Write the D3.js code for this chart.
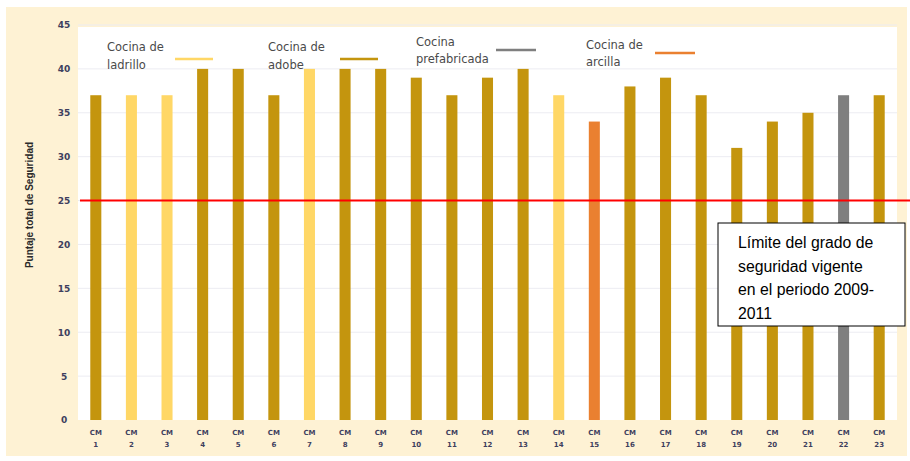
<!DOCTYPE html>
<html>
<head>
<meta charset="utf-8">
<script src="https://cdn.jsdelivr.net/npm/d3@7/dist/d3.min.js"></script>
<style>
  html, body { margin: 0; padding: 0; background: #ffffff; }
  svg { display: block; }
</style>
</head>
<body>
<svg id="chart" width="910" height="461"></svg>
<script>
// Kitchen codes and total safety score per kitchen
const categories = ["1","2","3","4","5","6","7","8","9","10","11","12","13","14","15","16","17","18","19","20","21","22","23"];
const scores = [37, 37, 37, 40, 40, 37, 40, 40, 40, 39, 37, 39, 40, 37, 34, 38, 39, 37, 31, 34, 35, 37, 37];
const kitchenType = ["adobe","ladrillo","ladrillo","adobe","adobe","adobe","ladrillo","adobe","adobe","adobe","adobe","adobe","adobe","ladrillo","arcilla","adobe","adobe","adobe","adobe","adobe","adobe","prefabricada","adobe"];
const yTicks = [0, 5, 10, 15, 20, 25, 30, 35, 40, 45];
const threshold = 25;

const typeKeys = ["ladrillo", "adobe", "prefabricada", "arcilla"];
const typeLabels = [["Cocina de", "ladrillo"], ["Cocina de", "adobe"], ["Cocina", "prefabricada"], ["Cocina de", "arcilla"]];
const typeColors = ["#FFD766", "#C4950E", "#7F7F7F", "#EA8030"];

const color = d3.scaleOrdinal().domain(typeKeys).range(typeColors);

const svg = d3.select("#chart");

// cream frame and white plotting area
svg.append("rect").attr("x", 6).attr("y", 7).attr("width", 901).attr("height", 449).attr("fill", "#FEF2D4");
const plot = { left: 78, right: 897, top: 27, bottom: 420 };
svg.append("rect").attr("x", plot.left).attr("y", plot.top)
  .attr("width", plot.right - plot.left).attr("height", plot.bottom - plot.top).attr("fill", "#ffffff");

const x = d3.scaleBand().domain(categories).range([plot.left, plot.right]).paddingInner(0.69).paddingOuter(0.345);
const y = d3.scaleLinear().domain([0, 45]).range([plot.bottom, 25]);

// horizontal gridlines
svg.append("g").selectAll("line").data(yTicks.slice(1)).join("line")
  .attr("x1", plot.left).attr("x2", plot.right)
  .attr("y1", d => y(d)).attr("y2", d => y(d))
  .attr("stroke", "#ececf2").attr("stroke-width", 1);

// y axis
const yAxis = svg.append("g").attr("transform", `translate(${plot.left},0)`)
  .call(d3.axisLeft(y).tickValues(yTicks).tickSize(0).tickPadding(12));
yAxis.select(".domain").remove();
yAxis.selectAll("text")
  .attr("font-family", "DejaVu Sans, sans-serif").attr("font-size", 9).attr("font-weight", "bold")
  .attr("fill", "#3E3F5E").attr("text-anchor", "middle").attr("dx", -2);

svg.append("text")
  .attr("transform", `translate(33,205) rotate(-90)`)
  .attr("text-anchor", "middle")
  .attr("font-family", "Liberation Sans Narrow, Arial Narrow, Liberation Sans, sans-serif")
  .attr("font-size", 10).attr("font-weight", "bold").attr("fill", "#2b2b2b")
  .text("Puntaje total de Seguridad");

// bars
svg.append("g").selectAll("rect").data(categories).join("rect")
  .attr("x", d => x(d))
  .attr("y", (d, i) => y(scores[i]))
  .attr("width", x.bandwidth())
  .attr("height", (d, i) => y(0) - y(scores[i]))
  .attr("fill", (d, i) => color(kitchenType[i]));

// x axis: two-line labels "CM" / number
const xAxis = svg.append("g").attr("transform", `translate(0,${plot.bottom})`)
  .call(d3.axisBottom(x).tickSize(0).tickFormat(""));
xAxis.select(".domain").remove();
xAxis.selectAll(".tick").each(function(d) {
  const t = d3.select(this).append("text")
    .attr("text-anchor", "middle")
    .attr("font-family", "DejaVu Sans, sans-serif").attr("font-size", 7).attr("font-weight", "bold")
    .attr("fill", "#3E3F5E");
  t.append("tspan").attr("x", 0).attr("y", 15).text("CM");
  t.append("tspan").attr("x", 0).attr("y", 27).text(d);
});

// safety threshold line
svg.append("line")
  .attr("x1", plot.left + 2).attr("x2", 910)
  .attr("y1", y(threshold)).attr("y2", y(threshold))
  .attr("stroke", "#FF0000").attr("stroke-width", 2);

// legend
const legendX = [107, 268, 416, 586];
const legendLineX = [[175, 213], [340, 378], [496, 536], [655, 695]];
const legendTextY = [[51, 69], [51, 69], [46, 63], [49, 66]];
const legendLineY = [59, 59, 50, 53];
const lg = svg.append("g").attr("font-family", "DejaVu Sans, sans-serif").attr("font-size", 11.5).attr("fill", "#4a4a4a");
typeKeys.forEach((k, i) => {
  lg.append("text").attr("x", legendX[i]).attr("y", legendTextY[i][0]).text(typeLabels[i][0]);
  lg.append("text").attr("x", legendX[i]).attr("y", legendTextY[i][1]).text(typeLabels[i][1]);
  lg.append("line")
    .attr("x1", legendLineX[i][0]).attr("x2", legendLineX[i][1])
    .attr("y1", legendLineY[i]).attr("y2", legendLineY[i])
    .attr("stroke", color(k)).attr("stroke-width", 2.5);
});

// annotation box for the threshold
const note = svg.append("g");
note.append("rect").attr("x", 718).attr("y", 223).attr("width", 187).attr("height", 103)
  .attr("fill", "#ffffff").attr("stroke", "#000000").attr("stroke-width", 1);
const noteLines = ["Límite del grado de", "seguridad vigente", "en el periodo 2009-", "2011"];
note.selectAll("text").data(noteLines).join("text")
  .attr("x", 738).attr("y", (d, i) => 248 + i * 23.5)
  .attr("font-family", "Liberation Sans, Arial, sans-serif").attr("font-size", 15.8).attr("fill", "#000000")
  .text(d => d);
</script>
</body>
</html>
